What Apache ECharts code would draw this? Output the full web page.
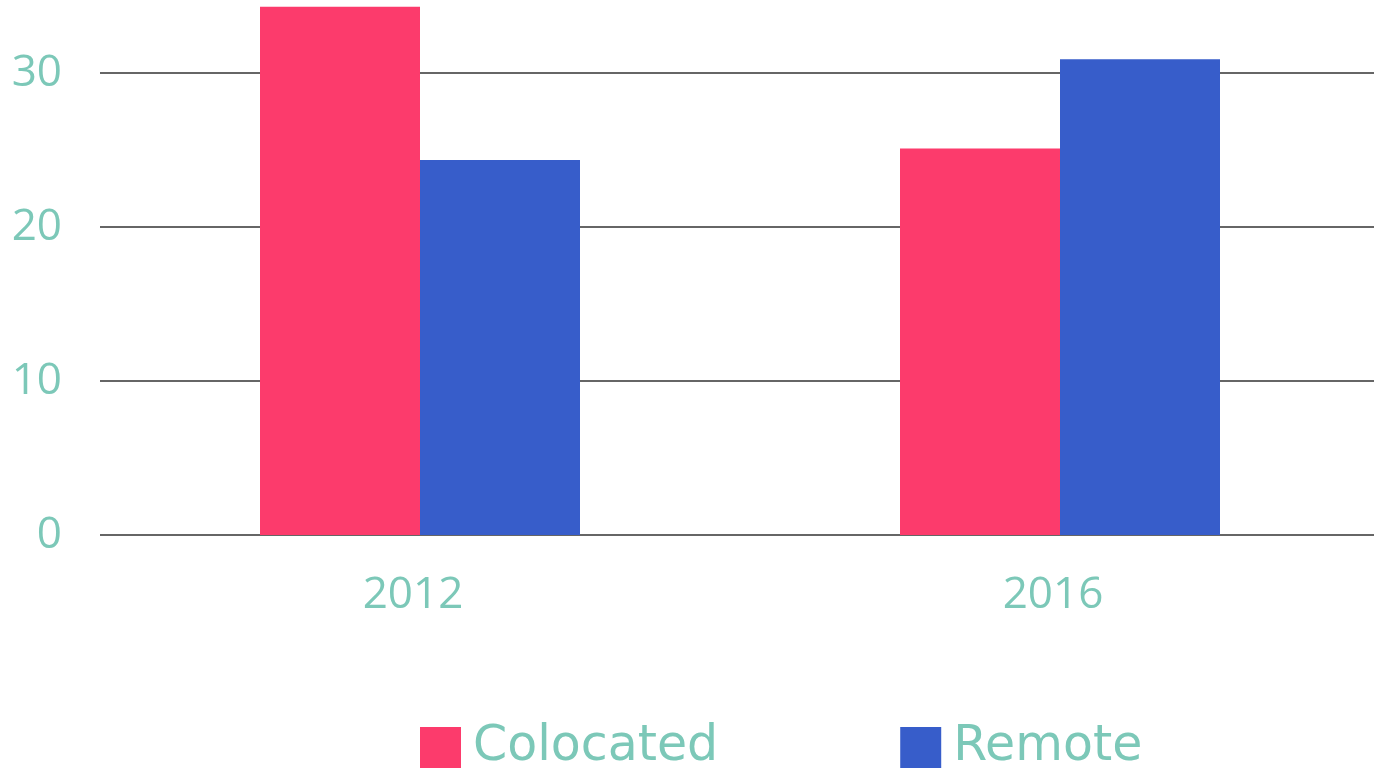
<!DOCTYPE html>
<html>
<head>
<meta charset="utf-8">
<script src="https://cdn.jsdelivr.net/npm/echarts@6/dist/echarts.min.js"></script>
<style>html,body{margin:0;padding:0;background:#fff}#c{width:1374px;height:771px}</style>
</head>
<body>
<div id="c"></div>
<script>
const categories = ['2012', '2016'];
const seriesNames = ['Colocated', 'Remote'];
const colocated = [34.3, 25.1];
const remote = [24.35, 30.9];

const teal = '#7cc8b8';
const chart = echarts.init(document.getElementById('c'), null, {renderer: 'canvas'});
chart.setOption({
  animation: false,
  grid: {left: 100, right: -6, top: -81, bottom: 236, containLabel: false, outerBoundsMode: 'none'},
  legend: {
    data: seriesNames,
    left: 415, top: 718,
    itemWidth: 41, itemHeight: 41, itemGap: 182,
    icon: 'rect',
    textStyle: {color: teal, fontSize: 49, fontFamily: 'DejaVu Sans', padding: [14, 0, 0, 7]}
  },
  xAxis: {
    type: 'category', data: categories,
    axisLine: {show: false}, axisTick: {show: false},
    axisLabel: {color: teal, fontSize: 44, fontFamily: 'Open Sans', fontWeight: 500, margin: 38, padding: [0, 14, 0, 0]}
  },
  yAxis: {
    type: 'value', min: 0, max: 40, interval: 10,
    axisLine: {show: false}, axisTick: {show: false},
    axisLabel: {color: teal, fontSize: 44, fontFamily: 'Open Sans', fontWeight: 500, margin: 38},
    splitLine: {lineStyle: {color: '#666', width: 2}}
  },
  series: [
    {name: seriesNames[0], type: 'bar', data: colocated, barWidth: 160, barGap: '0%', itemStyle: {color: '#fc3b6c'}},
    {name: seriesNames[1], type: 'bar', data: remote, barWidth: 160, barGap: '0%', itemStyle: {color: '#375dca'}}
  ]
});
</script>
</body>
</html>
